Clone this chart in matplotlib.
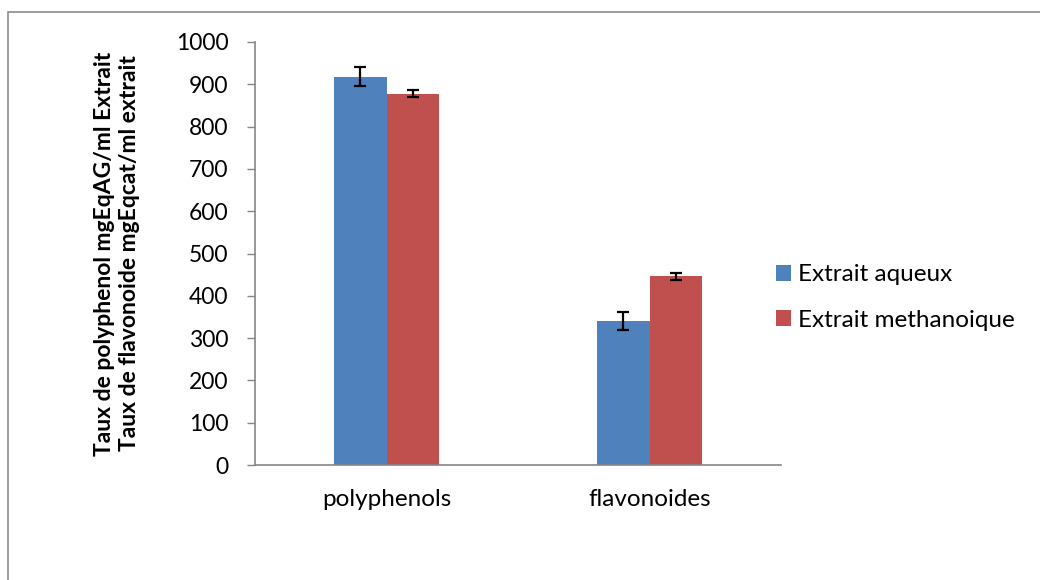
import matplotlib
matplotlib.use("Agg")
import matplotlib.pyplot as plt
from matplotlib.patches import Rectangle
import numpy as np

# Données
categories = ["polyphenols", "flavonoides"]
series = ["Extrait aqueux", "Extrait methanoique"]
valeurs_aqueux = [918, 340]
valeurs_metha = [878, 446]
err_aqueux = [22, 22]
err_metha = [9, 9]
yticks = [0, 100, 200, 300, 400, 500, 600, 700, 800, 900, 1000]

plt.rcParams['font.family'] = ['Lato', 'DejaVu Sans']

fig = plt.figure(figsize=(10.4, 5.8), dpi=100)
ax = fig.add_axes([255 / 1040, 1 - 465 / 580, 526 / 1040, 423 / 580])

# cadre extérieur gris
fig.patches.append(Rectangle((8 / 1040, -0.1), 1.2, 1.1 - 12 / 580,
                             transform=fig.transFigure, fill=False,
                             edgecolor="#8c8c8c", linewidth=1.2))

x = np.arange(len(categories))
w = 0.2
err_style = dict(ecolor="black", elinewidth=1.6, capsize=4.5, capthick=1.6)
ax.bar(x - w / 2, valeurs_aqueux, w, color="#4F81BD", label=series[0],
       yerr=err_aqueux, error_kw=err_style)
ax.bar(x + w / 2, valeurs_metha, w, color="#C0504D", label=series[1],
       yerr=err_metha, error_kw=err_style)

ax.set_xlim(-0.5, 1.5)
ax.set_ylim(0, 1000)
ax.set_yticks(yticks)
ax.set_xticks(x)
ax.set_xticklabels(categories)
ax.tick_params(axis="y", length=6, width=1, color="#868686", pad=13, labelsize=16.5)
ax.tick_params(axis="x", length=0, pad=17, labelsize=17.5)

for s in ["top", "right"]:
    ax.spines[s].set_visible(False)
for s in ["left", "bottom"]:
    ax.spines[s].set_color("#868686")
    ax.spines[s].set_linewidth(1.2)

ax.set_ylabel("Taux de polyphenol mgEqAG/ml Extrait\nTaux de flavonoide mgEqcat/ml extrait",
              fontsize=16.5, fontweight="bold", linespacing=1.25)
ax.yaxis.set_label_coords(-0.218, 0.5)

fig.legend(loc="center left", bbox_to_anchor=(776 / 1040, 1 - 297.5 / 580),
           frameon=False, fontsize=17.5, handlelength=0.62, handleheight=0.62,
           handletextpad=0.3, labelspacing=1.0, borderpad=0, borderaxespad=0)

fig.savefig("out.png", dpi=100)
